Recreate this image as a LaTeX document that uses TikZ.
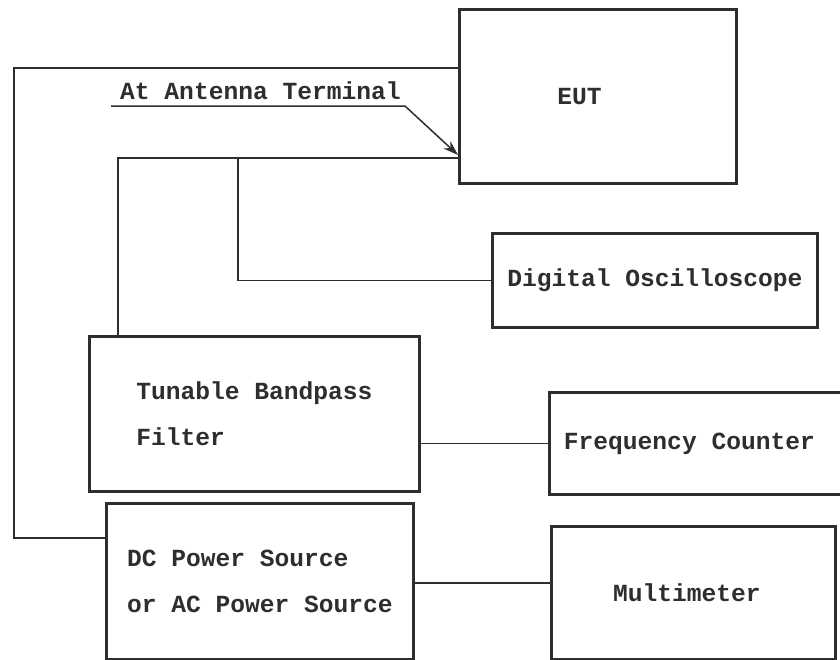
\documentclass[tikz,border=0pt]{standalone}
\usepackage{fontspec}
\setmonofont{Liberation Mono}
\usetikzlibrary{arrows.meta}
\definecolor{ink}{HTML}{2E2E2E}
\begin{document}
\begin{tikzpicture}[x=1pt,y=-1pt,
  every node/.style={font=\ttfamily\bfseries\fontsize{24.6}{46}\selectfont, text=ink},
  box/.style={draw=ink, line width=2.8pt, rectangle, align=left, inner sep=0pt, anchor=north west},
  wire/.style={draw=ink, line width=1.5pt},
  pointer/.style={wire, -{Stealth[length=15pt,width=10pt]}}]
\useasboundingbox[fill=white] (0,0) rectangle (840,659);

% equipment boxes (top-left corner, size)
\node[box, minimum width=277pt, minimum height=174pt] (eut) at (458,8) {EUT\hspace{37pt}};
\node[box, minimum width=325pt, minimum height=94pt] (osc) at (491,232) {Digital Oscilloscope};
\node[box, minimum width=330pt, minimum height=155pt] (filter) at (88,335) {Tunable Bandpass\\Filter\hspace{142pt}};
\node[box, minimum width=312pt, minimum height=102pt] (freq) at (548,391) {Frequency Counter\hspace{32pt}};
\node[box, minimum width=307pt, minimum height=156pt] (dc) at (105,502) {DC Power Source\\or AC Power Source};
\node[box, minimum width=284pt, minimum height=133pt] (mm) at (550,525) {Multimeter\hspace{13pt}};

% antenna terminal callout
\node[anchor=base west, inner sep=0pt] (ant) at (120,99) {At Antenna Terminal};
\coordinate (u0) at (111,106);
\coordinate (u1) at (405,106);
\draw[pointer] (u0) -- (u1) -- (eut.west |- 0,155);

% power loop from EUT round to the power source
\coordinate (lt) at (14,68);
\coordinate (lb) at (14,538);
\draw[wire] (eut.west |- lt) -- (lt) -- (lb) -- (dc.west |- lb);

% RF path from EUT to filter and oscilloscope
\coordinate (jt) at (118,158);
\coordinate (br) at (238,158);
\draw[wire] (eut.west |- jt) -- (jt) -- (filter.north -| jt);
\draw[wire] (br) |- (osc.west);

% filter to frequency counter, source to multimeter
\draw[wire] (filter.east |- freq.west) -- (freq.west);
\coordinate (pm) at (0,583);
\draw[wire] (dc.east |- pm) -- (mm.west |- pm);
\end{tikzpicture}
\end{document}
